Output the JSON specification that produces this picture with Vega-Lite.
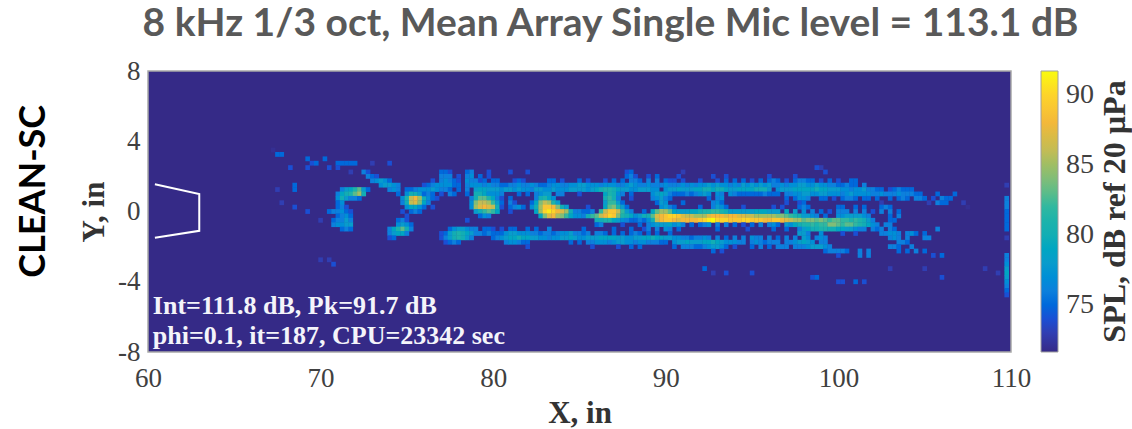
{"$schema":"https://vega.github.io/schema/vega-lite/v6.json","width":863,"height":281,"autosize":"none","padding":{"left":148,"top":71,"right":121,"bottom":77},"background":"white","view":{"fill":"#352a87","stroke":"#a8a8a8","strokeWidth":1.5},
"title":{"text":"8 kHz 1/3 oct, Mean Array Single Mic level = 113.1 dB","font":"Lato","fontSize":39,"fontWeight":"bold","color":"#595959","anchor":"middle","dx":31,"offset":13},
"layer":[
{"mark":{"type":"rect","width":4.6,"height":4.8},
"data":{"values":[
{"x":67.25,"y":3.5,"v":72},{"x":67.5,"y":3.25,"v":75},{"x":67.75,"y":3.25,"v":75},{"x":69.25,"y":3,"v":75},{"x":70.25,"y":3,"v":75},{"x":69.5,"y":2.75,"v":74},{"x":69.75,"y":2.75,"v":75},{"x":68.25,"y":2.5,"v":74},{"x":69.25,"y":2.5,"v":74},{"x":68.5,"y":1.5,"v":75},{"x":68.5,"y":1.25,"v":75},{"x":67.5,"y":1.25,"v":73},{"x":67.75,"y":0.5,"v":73},{"x":68.5,"y":0.25,"v":74},{"x":69.25,"y":0,"v":74},{"x":70,"y":-0.5,"v":73},{"x":70,"y":-2.75,"v":73},{"x":70.5,"y":-2.75,"v":73},{"x":70.75,"y":-3,"v":74},
{"x":71.25,"y":1.25,"v":76},{"x":71.5,"y":1.25,"v":78},{"x":71.75,"y":1.25,"v":79},{"x":72,"y":1.25,"v":81},{"x":72.25,"y":1.25,"v":83},{"x":72.5,"y":1.25,"v":78},{"x":72.75,"y":1.25,"v":75},
{"x":71,"y":1,"v":76},{"x":71.25,"y":1,"v":79},{"x":71.5,"y":1,"v":80},{"x":71.75,"y":1,"v":81},{"x":72,"y":1,"v":83},{"x":72.25,"y":1,"v":85},{"x":72.5,"y":1,"v":80},
{"x":71,"y":0.75,"v":77},{"x":71.25,"y":0.75,"v":80},{"x":71.5,"y":0.75,"v":78},{"x":71.75,"y":0.75,"v":76},{"x":72,"y":0.75,"v":76},{"x":72.25,"y":0.75,"v":75},
{"x":71,"y":0.5,"v":75},{"x":71.25,"y":0.5,"v":77},{"x":71,"y":0.25,"v":75},{"x":71.25,"y":0.25,"v":76},{"x":71.5,"y":0.25,"v":74},
{"x":70.5,"y":0,"v":75},{"x":70.75,"y":0,"v":76},{"x":71,"y":0,"v":76},{"x":71.25,"y":0,"v":77},{"x":71.5,"y":0,"v":75},{"x":71.75,"y":0,"v":74},
{"x":71,"y":-0.25,"v":75},{"x":71.25,"y":-0.25,"v":76},{"x":71.5,"y":-0.25,"v":77},{"x":71.75,"y":-0.25,"v":75},
{"x":70.75,"y":-0.5,"v":75},{"x":71,"y":-0.5,"v":76},{"x":71.25,"y":-0.5,"v":76},{"x":71.5,"y":-0.5,"v":78},{"x":71.75,"y":-0.5,"v":76},
{"x":70.75,"y":-0.75,"v":76},{"x":71,"y":-0.75,"v":77},{"x":71.25,"y":-0.75,"v":77},{"x":71.5,"y":-0.75,"v":78},{"x":71.75,"y":-0.75,"v":78},
{"x":71.25,"y":-1,"v":75},{"x":71.5,"y":-1,"v":76},{"x":71.75,"y":-1,"v":75},
{"x":71,"y":2.75,"v":75},{"x":71.25,"y":2.75,"v":75},{"x":71.5,"y":2.75,"v":75},{"x":71.75,"y":2.75,"v":75},{"x":72,"y":2.75,"v":75},{"x":70.5,"y":2.5,"v":74},{"x":71,"y":2.5,"v":74},{"x":71.75,"y":2.25,"v":73},{"x":74,"y":2.75,"v":74},{"x":73,"y":2.75,"v":73},
{"x":72.5,"y":2.25,"v":76},{"x":72.75,"y":2.25,"v":74},{"x":72.75,"y":2,"v":76},{"x":73,"y":2,"v":75},{"x":73.25,"y":2,"v":74},
{"x":73,"y":1.75,"v":76},{"x":73.25,"y":1.75,"v":77},{"x":73.5,"y":1.75,"v":78},{"x":73.75,"y":1.75,"v":77},{"x":74,"y":1.75,"v":75},
{"x":73.5,"y":1.5,"v":77},{"x":73.75,"y":1.5,"v":78},{"x":74,"y":1.5,"v":78},{"x":74.25,"y":1.5,"v":77},{"x":74.5,"y":1.5,"v":76},
{"x":74,"y":1.25,"v":76},{"x":74.25,"y":1.25,"v":77},{"x":74.5,"y":1.25,"v":76},{"x":75,"y":1.25,"v":75},{"x":75.25,"y":1.25,"v":75},
{"x":74.5,"y":1,"v":75},{"x":75,"y":1,"v":77},{"x":75.25,"y":1,"v":80},{"x":75.5,"y":1,"v":80},{"x":75.75,"y":1,"v":78},{"x":76,"y":1,"v":76},
{"x":74.75,"y":0.75,"v":77},{"x":75,"y":0.75,"v":81},{"x":75.25,"y":0.75,"v":86},{"x":75.5,"y":0.75,"v":88},{"x":75.75,"y":0.75,"v":85},{"x":76,"y":0.75,"v":80},{"x":76.25,"y":0.75,"v":77},{"x":76.5,"y":0.75,"v":75},{"x":76.75,"y":0.75,"v":74},
{"x":74.75,"y":0.5,"v":76},{"x":75,"y":0.5,"v":80},{"x":75.25,"y":0.5,"v":86},{"x":75.5,"y":0.5,"v":87},{"x":75.75,"y":0.5,"v":84},{"x":76,"y":0.5,"v":79},{"x":76.25,"y":0.5,"v":76},
{"x":75,"y":0.25,"v":77},{"x":75.25,"y":0.25,"v":79},{"x":75.5,"y":0.25,"v":79},{"x":75.75,"y":0.25,"v":77},{"x":76,"y":0.25,"v":75},{"x":76.5,"y":0.25,"v":74},
{"x":74.75,"y":0,"v":74},{"x":75.25,"y":0,"v":75},{"x":75.5,"y":0,"v":76},{"x":75.75,"y":0,"v":75},{"x":75,"y":-0.25,"v":74},
{"x":74.5,"y":-0.5,"v":75},{"x":74.75,"y":-0.5,"v":76},{"x":75,"y":-0.5,"v":74},
{"x":74.5,"y":-0.75,"v":77},{"x":74.75,"y":-0.75,"v":78},{"x":75,"y":-0.75,"v":77},{"x":75.25,"y":-0.75,"v":75},
{"x":74,"y":-1,"v":76},{"x":74.25,"y":-1,"v":79},{"x":74.5,"y":-1,"v":81},{"x":74.75,"y":-1,"v":83},{"x":75,"y":-1,"v":80},{"x":75.25,"y":-1,"v":76},
{"x":74,"y":-1.25,"v":76},{"x":74.25,"y":-1.25,"v":78},{"x":74.5,"y":-1.25,"v":79},{"x":74.75,"y":-1.25,"v":79},{"x":75,"y":-1.25,"v":76},{"x":74,"y":-1.5,"v":74},{"x":74.25,"y":-1.5,"v":75},
{"x":77,"y":2.25,"v":75},{"x":77.25,"y":2.25,"v":75},{"x":77.5,"y":2.25,"v":74},{"x":78.5,"y":2.25,"v":75},{"x":78.75,"y":2.25,"v":76},{"x":79.75,"y":2.25,"v":74},{"x":81,"y":2.25,"v":74},{"x":82,"y":2.25,"v":74},
{"x":77,"y":2,"v":76},{"x":77.25,"y":2,"v":76},{"x":77.5,"y":2,"v":76},{"x":78,"y":2,"v":74},{"x":78.5,"y":2,"v":76},{"x":78.75,"y":2,"v":77},{"x":79.25,"y":2,"v":75},{"x":79.75,"y":2,"v":74},
{"x":76.5,"y":1.75,"v":74},{"x":77,"y":1.75,"v":76},{"x":77.25,"y":1.75,"v":77},{"x":77.5,"y":1.75,"v":76},{"x":77.75,"y":1.75,"v":75},{"x":78,"y":1.75,"v":74},{"x":78.5,"y":1.75,"v":77},{"x":78.75,"y":1.75,"v":76},{"x":79,"y":1.75,"v":76},{"x":79.25,"y":1.75,"v":74},{"x":79.5,"y":1.75,"v":75},{"x":80,"y":1.75,"v":75},{"x":80.25,"y":1.75,"v":75},{"x":81.25,"y":1.75,"v":74},{"x":81.5,"y":1.75,"v":75},{"x":81.75,"y":1.75,"v":74},
{"x":76,"y":1.5,"v":74},{"x":76.25,"y":1.5,"v":75},{"x":76.5,"y":1.5,"v":76},{"x":76.75,"y":1.5,"v":77},{"x":77,"y":1.5,"v":77},{"x":77.25,"y":1.5,"v":77},{"x":77.5,"y":1.5,"v":77},{"x":77.75,"y":1.5,"v":75},{"x":78,"y":1.5,"v":75},{"x":78.5,"y":1.5,"v":76},{"x":78.75,"y":1.5,"v":77},{"x":79,"y":1.5,"v":77},{"x":79.25,"y":1.5,"v":77},{"x":79.5,"y":1.5,"v":76},{"x":79.75,"y":1.5,"v":77},{"x":80,"y":1.5,"v":76},{"x":80.25,"y":1.5,"v":76},{"x":80.5,"y":1.5,"v":75},{"x":80.75,"y":1.5,"v":75},{"x":81,"y":1.5,"v":76},{"x":81.25,"y":1.5,"v":76},{"x":81.5,"y":1.5,"v":77},{"x":81.75,"y":1.5,"v":76},{"x":82,"y":1.5,"v":76},{"x":82.25,"y":1.5,"v":77},{"x":82.5,"y":1.5,"v":76},{"x":82.75,"y":1.5,"v":75},{"x":83,"y":1.5,"v":75},{"x":83.25,"y":1.5,"v":76},{"x":83.5,"y":1.5,"v":77},{"x":83.75,"y":1.5,"v":77},
{"x":75.5,"y":1.25,"v":76},{"x":75.75,"y":1.25,"v":77},{"x":76,"y":1.25,"v":77},{"x":76.25,"y":1.25,"v":77},{"x":76.5,"y":1.25,"v":78},{"x":76.75,"y":1.25,"v":77},{"x":77,"y":1.25,"v":76},{"x":77.25,"y":1.25,"v":76},{"x":77.5,"y":1.25,"v":75},{"x":78,"y":1.25,"v":75},{"x":78.5,"y":1.25,"v":76},{"x":79,"y":1.25,"v":78},{"x":79.25,"y":1.25,"v":79},{"x":79.5,"y":1.25,"v":79},{"x":79.75,"y":1.25,"v":78},{"x":80,"y":1.25,"v":78},{"x":80.25,"y":1.25,"v":78},{"x":80.5,"y":1.25,"v":77},{"x":80.75,"y":1.25,"v":78},{"x":81,"y":1.25,"v":78},{"x":81.25,"y":1.25,"v":77},{"x":81.5,"y":1.25,"v":78},{"x":81.75,"y":1.25,"v":77},{"x":82,"y":1.25,"v":77},{"x":82.25,"y":1.25,"v":76},{"x":82.5,"y":1.25,"v":78},{"x":82.75,"y":1.25,"v":78},{"x":83,"y":1.25,"v":77},{"x":83.25,"y":1.25,"v":77},{"x":83.5,"y":1.25,"v":78},{"x":83.75,"y":1.25,"v":77},
{"x":76,"y":1,"v":75},{"x":76.25,"y":1,"v":76},{"x":76.5,"y":1,"v":75},{"x":77,"y":1,"v":74},{"x":77.5,"y":1,"v":76},{"x":77.75,"y":1,"v":75},{"x":78.5,"y":1,"v":75},{"x":79,"y":1,"v":80},{"x":79.25,"y":1,"v":80},{"x":79.5,"y":1,"v":79},{"x":79.75,"y":1,"v":77},{"x":80,"y":1,"v":77},{"x":80.25,"y":1,"v":77},{"x":80.5,"y":1,"v":76},{"x":81.5,"y":1,"v":75},{"x":82,"y":1,"v":75},{"x":82.5,"y":1,"v":76},{"x":82.75,"y":1,"v":77},{"x":83,"y":1,"v":78},{"x":83.25,"y":1,"v":78},{"x":83.75,"y":1,"v":76},
{"x":78.75,"y":0.75,"v":76},{"x":79,"y":0.75,"v":80},{"x":79.25,"y":0.75,"v":83},{"x":79.5,"y":0.75,"v":83},{"x":79.75,"y":0.75,"v":81},{"x":80,"y":0.75,"v":79},{"x":80.25,"y":0.75,"v":76},{"x":80.5,"y":0.75,"v":74},{"x":81,"y":0.75,"v":75},
{"x":78.75,"y":0.5,"v":77},{"x":79,"y":0.5,"v":84},{"x":79.25,"y":0.5,"v":86},{"x":79.5,"y":0.5,"v":86},{"x":79.75,"y":0.5,"v":85},{"x":80,"y":0.5,"v":82},{"x":80.25,"y":0.5,"v":78},{"x":80.5,"y":0.5,"v":75},{"x":81,"y":0.5,"v":76},{"x":81.25,"y":0.5,"v":74},
{"x":78.75,"y":0.25,"v":77},{"x":79,"y":0.25,"v":85},{"x":79.25,"y":0.25,"v":87},{"x":79.5,"y":0.25,"v":88},{"x":79.75,"y":0.25,"v":87},{"x":80,"y":0.25,"v":86},{"x":80.25,"y":0.25,"v":80},{"x":80.5,"y":0.25,"v":74},{"x":81,"y":0.25,"v":75},{"x":81.25,"y":0.25,"v":76},{"x":81.5,"y":0.25,"v":77},{"x":81.75,"y":0.25,"v":75},
{"x":79,"y":0,"v":78},{"x":79.25,"y":0,"v":80},{"x":79.5,"y":0,"v":82},{"x":79.75,"y":0,"v":83},{"x":80,"y":0,"v":82},{"x":80.25,"y":0,"v":79},{"x":81,"y":0,"v":74},{"x":79.25,"y":-0.25,"v":75},{"x":79.5,"y":-0.25,"v":77},{"x":79.75,"y":-0.25,"v":76},{"x":78.5,"y":-0.5,"v":74},
{"x":82.5,"y":0.75,"v":76},{"x":82.75,"y":0.75,"v":80},{"x":83,"y":0.75,"v":81},{"x":83.25,"y":0.75,"v":79},{"x":83.5,"y":0.75,"v":77},
{"x":82.25,"y":0.5,"v":75},{"x":82.5,"y":0.5,"v":79},{"x":82.75,"y":0.5,"v":84},{"x":83,"y":0.5,"v":86},{"x":83.25,"y":0.5,"v":85},{"x":83.5,"y":0.5,"v":81},{"x":83.75,"y":0.5,"v":78},
{"x":82.25,"y":0.25,"v":77},{"x":82.5,"y":0.25,"v":80},{"x":82.75,"y":0.25,"v":85},{"x":83,"y":0.25,"v":89},{"x":83.25,"y":0.25,"v":89},{"x":83.5,"y":0.25,"v":88},{"x":83.75,"y":0.25,"v":84},{"x":84,"y":0.25,"v":80},{"x":84.25,"y":0.25,"v":78},
{"x":82.5,"y":0,"v":79},{"x":82.75,"y":0,"v":85},{"x":83,"y":0,"v":90},{"x":83.25,"y":0,"v":91},{"x":83.5,"y":0,"v":90},{"x":83.75,"y":0,"v":88},{"x":84,"y":0,"v":87},{"x":84.25,"y":0,"v":85},{"x":84.5,"y":0,"v":80},{"x":84.75,"y":0,"v":76},{"x":85,"y":0,"v":76},{"x":85.25,"y":0,"v":75},
{"x":82.75,"y":-0.25,"v":79},{"x":83,"y":-0.25,"v":84},{"x":83.25,"y":-0.25,"v":87},{"x":83.5,"y":-0.25,"v":88},{"x":83.75,"y":-0.25,"v":85},{"x":84,"y":-0.25,"v":84},{"x":84.25,"y":-0.25,"v":82},{"x":84.5,"y":-0.25,"v":79},{"x":84.75,"y":-0.25,"v":77},{"x":85,"y":-0.25,"v":77},{"x":85.25,"y":-0.25,"v":76},{"x":85.5,"y":-0.25,"v":80},{"x":85.75,"y":-0.25,"v":82},
{"x":86.5,"y":1,"v":79},{"x":86.75,"y":1,"v":81},{"x":87,"y":1,"v":80},{"x":86.5,"y":0.75,"v":80},{"x":86.75,"y":0.75,"v":82},{"x":87,"y":0.75,"v":80},{"x":87.25,"y":0.75,"v":76},
{"x":86.5,"y":0.5,"v":78},{"x":86.75,"y":0.5,"v":82},{"x":87,"y":0.5,"v":82},{"x":87.25,"y":0.5,"v":78},{"x":87.5,"y":0.5,"v":75},
{"x":85.5,"y":0.25,"v":74},{"x":86.5,"y":0.25,"v":79},{"x":86.75,"y":0.25,"v":83},{"x":87,"y":0.25,"v":84},{"x":87.25,"y":0.25,"v":81},{"x":87.5,"y":0.25,"v":78},{"x":87.75,"y":0.25,"v":75},
{"x":85.5,"y":0,"v":75},{"x":85.75,"y":0,"v":76},{"x":86.25,"y":0,"v":82},{"x":86.5,"y":0,"v":86},{"x":86.75,"y":0,"v":89},{"x":87,"y":0,"v":89},{"x":87.25,"y":0,"v":86},{"x":87.5,"y":0,"v":82},{"x":87.75,"y":0,"v":78},{"x":88,"y":0,"v":76},
{"x":86,"y":-0.25,"v":83},{"x":86.25,"y":-0.25,"v":86},{"x":86.5,"y":-0.25,"v":88},{"x":86.75,"y":-0.25,"v":90},{"x":87,"y":-0.25,"v":89},{"x":87.25,"y":-0.25,"v":84},{"x":87.5,"y":-0.25,"v":81},{"x":87.75,"y":-0.25,"v":80},{"x":88,"y":-0.25,"v":79},{"x":88.25,"y":-0.25,"v":77},{"x":88.5,"y":-0.25,"v":78},{"x":88.75,"y":-0.25,"v":80},{"x":89,"y":-0.25,"v":80},{"x":89.25,"y":-0.25,"v":83},{"x":89.5,"y":-0.25,"v":87},{"x":89.75,"y":-0.25,"v":88},{"x":90,"y":-0.25,"v":89},{"x":90.25,"y":-0.25,"v":90},{"x":90.5,"y":-0.25,"v":90},{"x":90.75,"y":-0.25,"v":89},{"x":91,"y":-0.25,"v":87},{"x":91.25,"y":-0.25,"v":86},{"x":91.5,"y":-0.25,"v":86},{"x":91.75,"y":-0.25,"v":85},{"x":92,"y":-0.25,"v":85},{"x":92.25,"y":-0.25,"v":85},{"x":92.5,"y":-0.25,"v":87},{"x":92.75,"y":-0.25,"v":88},{"x":93,"y":-0.25,"v":88},{"x":93.25,"y":-0.25,"v":88},{"x":93.5,"y":-0.25,"v":87},{"x":93.75,"y":-0.25,"v":88},{"x":94,"y":-0.25,"v":88},{"x":94.25,"y":-0.25,"v":87},{"x":94.5,"y":-0.25,"v":87},{"x":94.75,"y":-0.25,"v":86},{"x":95,"y":-0.25,"v":86},{"x":95.25,"y":-0.25,"v":85},{"x":95.5,"y":-0.25,"v":85},{"x":95.75,"y":-0.25,"v":85},{"x":96,"y":-0.25,"v":85},{"x":96.25,"y":-0.25,"v":85},{"x":96.5,"y":-0.25,"v":84},{"x":96.75,"y":-0.25,"v":84},{"x":97,"y":-0.25,"v":83},{"x":97.25,"y":-0.25,"v":82},{"x":97.5,"y":-0.25,"v":81},{"x":97.75,"y":-0.25,"v":80},{"x":98,"y":-0.25,"v":78},{"x":98.25,"y":-0.25,"v":78},{"x":98.5,"y":-0.25,"v":77},{"x":98.75,"y":-0.25,"v":76},{"x":99.25,"y":-0.25,"v":75},{"x":100,"y":-0.25,"v":77},{"x":100.25,"y":-0.25,"v":77},{"x":100.5,"y":-0.25,"v":78},{"x":100.75,"y":-0.25,"v":78},{"x":101,"y":-0.25,"v":78},{"x":101.25,"y":-0.25,"v":78},{"x":101.5,"y":-0.25,"v":77},{"x":101.75,"y":-0.25,"v":76},{"x":103,"y":-0.25,"v":75},{"x":103.5,"y":-0.25,"v":76},
{"x":86,"y":-0.5,"v":80},{"x":86.25,"y":-0.5,"v":80},{"x":86.5,"y":-0.5,"v":81},{"x":86.75,"y":-0.5,"v":81},{"x":87,"y":-0.5,"v":79},{"x":87.25,"y":-0.5,"v":78},{"x":87.5,"y":-0.5,"v":77},{"x":87.75,"y":-0.5,"v":76},{"x":88,"y":-0.5,"v":75},{"x":88.25,"y":-0.5,"v":75},{"x":88.5,"y":-0.5,"v":76},{"x":88.75,"y":-0.5,"v":75},{"x":89,"y":-0.5,"v":77},{"x":89.25,"y":-0.5,"v":80},{"x":89.5,"y":-0.5,"v":86},{"x":89.75,"y":-0.5,"v":88},{"x":90,"y":-0.5,"v":89},{"x":90.25,"y":-0.5,"v":89},{"x":90.5,"y":-0.5,"v":88},{"x":90.75,"y":-0.5,"v":87},{"x":91,"y":-0.5,"v":88},{"x":91.25,"y":-0.5,"v":88},{"x":91.5,"y":-0.5,"v":88},{"x":91.75,"y":-0.5,"v":88},{"x":92,"y":-0.5,"v":89},{"x":92.25,"y":-0.5,"v":90},{"x":92.5,"y":-0.5,"v":91},{"x":92.75,"y":-0.5,"v":91.7},{"x":93,"y":-0.5,"v":90},{"x":93.25,"y":-0.5,"v":90},{"x":93.5,"y":-0.5,"v":90},{"x":93.75,"y":-0.5,"v":89},{"x":94,"y":-0.5,"v":89},{"x":94.25,"y":-0.5,"v":89},{"x":94.5,"y":-0.5,"v":90},{"x":94.75,"y":-0.5,"v":90},{"x":95,"y":-0.5,"v":89},{"x":95.25,"y":-0.5,"v":89},{"x":95.5,"y":-0.5,"v":89},{"x":95.75,"y":-0.5,"v":88},{"x":96,"y":-0.5,"v":88},{"x":96.25,"y":-0.5,"v":89},{"x":96.5,"y":-0.5,"v":89},{"x":96.75,"y":-0.5,"v":88},{"x":97,"y":-0.5,"v":87},{"x":97.25,"y":-0.5,"v":86},{"x":97.5,"y":-0.5,"v":85},{"x":97.75,"y":-0.5,"v":85},{"x":98,"y":-0.5,"v":83},{"x":98.25,"y":-0.5,"v":84},{"x":98.5,"y":-0.5,"v":84},{"x":98.75,"y":-0.5,"v":83},{"x":99,"y":-0.5,"v":84},{"x":99.25,"y":-0.5,"v":83},{"x":99.5,"y":-0.5,"v":82},{"x":99.75,"y":-0.5,"v":83},{"x":100,"y":-0.5,"v":83},{"x":100.25,"y":-0.5,"v":82},{"x":100.5,"y":-0.5,"v":82},{"x":100.75,"y":-0.5,"v":81},{"x":101,"y":-0.5,"v":82},{"x":101.25,"y":-0.5,"v":81},{"x":101.5,"y":-0.5,"v":80},{"x":101.75,"y":-0.5,"v":78},{"x":102,"y":-0.5,"v":76},{"x":103,"y":-0.5,"v":75},{"x":103.25,"y":-0.5,"v":75},
{"x":87.75,"y":2.25,"v":74},{"x":88,"y":2.25,"v":75},{"x":91,"y":2.25,"v":73},
{"x":87.75,"y":2,"v":75},{"x":88,"y":2,"v":76},{"x":88.25,"y":2,"v":74},{"x":89,"y":2,"v":74},{"x":89.5,"y":2,"v":75},{"x":90.75,"y":2,"v":74},{"x":92.75,"y":2,"v":74},{"x":93.5,"y":2,"v":74},{"x":96,"y":2,"v":74},{"x":97.5,"y":2,"v":74},{"x":99,"y":2.5,"v":73},{"x":98.75,"y":2.5,"v":74},{"x":99.25,"y":2.25,"v":74},
{"x":83.25,"y":1.75,"v":75},{"x":83.5,"y":1.75,"v":75},{"x":84,"y":1.75,"v":74},{"x":85,"y":1.75,"v":75},{"x":85.5,"y":1.75,"v":74},{"x":86.5,"y":1.75,"v":74},{"x":87,"y":1.75,"v":75},{"x":87.5,"y":1.75,"v":75},{"x":88,"y":1.75,"v":76},{"x":88.25,"y":1.75,"v":76},{"x":88.5,"y":1.75,"v":75},{"x":89,"y":1.75,"v":76},{"x":89.5,"y":1.75,"v":76},{"x":90,"y":1.75,"v":75},{"x":90.25,"y":1.75,"v":74},{"x":90.5,"y":1.75,"v":74},{"x":91,"y":1.75,"v":74},{"x":92,"y":1.75,"v":74},{"x":93,"y":1.75,"v":74},{"x":93.5,"y":1.75,"v":75},{"x":94,"y":1.75,"v":75},{"x":94.5,"y":1.75,"v":75},{"x":95,"y":1.75,"v":74},{"x":95.5,"y":1.75,"v":75},{"x":96,"y":1.75,"v":75},{"x":96.25,"y":1.75,"v":76},{"x":96.5,"y":1.75,"v":75},{"x":97,"y":1.75,"v":74},{"x":97.5,"y":1.75,"v":75},{"x":97.75,"y":1.75,"v":76},{"x":98,"y":1.75,"v":76},{"x":98.25,"y":1.75,"v":75},{"x":98.5,"y":1.75,"v":75},{"x":99,"y":1.75,"v":74},{"x":99.5,"y":1.75,"v":75},{"x":100,"y":1.75,"v":74},{"x":100.75,"y":1.75,"v":75},{"x":101,"y":1.75,"v":75},
{"x":84,"y":1.5,"v":76},{"x":84.25,"y":1.5,"v":76},{"x":84.5,"y":1.5,"v":77},{"x":84.75,"y":1.5,"v":77},{"x":85,"y":1.5,"v":78},{"x":85.25,"y":1.5,"v":78},{"x":85.5,"y":1.5,"v":77},{"x":85.75,"y":1.5,"v":77},{"x":86,"y":1.5,"v":77},{"x":86.25,"y":1.5,"v":76},{"x":86.5,"y":1.5,"v":77},{"x":86.75,"y":1.5,"v":77},{"x":87,"y":1.5,"v":77},{"x":87.25,"y":1.5,"v":76},{"x":87.5,"y":1.5,"v":76},{"x":87.75,"y":1.5,"v":77},{"x":88,"y":1.5,"v":78},{"x":88.25,"y":1.5,"v":77},{"x":88.5,"y":1.5,"v":76},{"x":88.75,"y":1.5,"v":76},{"x":89,"y":1.5,"v":77},{"x":89.25,"y":1.5,"v":76},{"x":89.5,"y":1.5,"v":76},{"x":89.75,"y":1.5,"v":76},{"x":90,"y":1.5,"v":77},{"x":90.25,"y":1.5,"v":76},{"x":90.5,"y":1.5,"v":76},{"x":90.75,"y":1.5,"v":76},{"x":91,"y":1.5,"v":77},{"x":91.25,"y":1.5,"v":76},{"x":91.5,"y":1.5,"v":77},{"x":91.75,"y":1.5,"v":76},{"x":92,"y":1.5,"v":77},{"x":92.25,"y":1.5,"v":77},{"x":92.5,"y":1.5,"v":78},{"x":92.75,"y":1.5,"v":77},{"x":93,"y":1.5,"v":78},{"x":93.25,"y":1.5,"v":77},{"x":93.5,"y":1.5,"v":77},{"x":93.75,"y":1.5,"v":76},{"x":94,"y":1.5,"v":77},{"x":94.25,"y":1.5,"v":76},{"x":94.5,"y":1.5,"v":78},{"x":94.75,"y":1.5,"v":77},{"x":95,"y":1.5,"v":78},{"x":95.25,"y":1.5,"v":77},{"x":95.5,"y":1.5,"v":78},{"x":95.75,"y":1.5,"v":77},{"x":96,"y":1.5,"v":78},{"x":96.25,"y":1.5,"v":76},{"x":96.5,"y":1.5,"v":76},{"x":96.75,"y":1.5,"v":77},{"x":97,"y":1.5,"v":76},{"x":97.25,"y":1.5,"v":77},{"x":97.5,"y":1.5,"v":77},{"x":97.75,"y":1.5,"v":78},{"x":98,"y":1.5,"v":78},{"x":98.25,"y":1.5,"v":77},{"x":98.5,"y":1.5,"v":77},{"x":98.75,"y":1.5,"v":78},{"x":99,"y":1.5,"v":77},{"x":99.25,"y":1.5,"v":77},{"x":99.5,"y":1.5,"v":76},{"x":99.75,"y":1.5,"v":76},{"x":100,"y":1.5,"v":75},{"x":100.25,"y":1.5,"v":75},{"x":100.5,"y":1.5,"v":76},{"x":100.75,"y":1.5,"v":75},{"x":101,"y":1.5,"v":75},{"x":101.5,"y":1.5,"v":76},
{"x":84,"y":1.25,"v":77},{"x":84.25,"y":1.25,"v":77},{"x":84.5,"y":1.25,"v":78},{"x":84.75,"y":1.25,"v":78},{"x":85,"y":1.25,"v":78},{"x":85.25,"y":1.25,"v":78},{"x":85.5,"y":1.25,"v":77},{"x":85.75,"y":1.25,"v":78},{"x":86,"y":1.25,"v":79},{"x":86.25,"y":1.25,"v":80},{"x":86.5,"y":1.25,"v":81},{"x":86.75,"y":1.25,"v":81},{"x":87,"y":1.25,"v":80},{"x":87.25,"y":1.25,"v":79},{"x":87.5,"y":1.25,"v":78},{"x":87.75,"y":1.25,"v":78},{"x":88,"y":1.25,"v":77},{"x":88.25,"y":1.25,"v":77},{"x":88.5,"y":1.25,"v":78},{"x":88.75,"y":1.25,"v":78},{"x":89,"y":1.25,"v":78},{"x":89.25,"y":1.25,"v":77},{"x":89.5,"y":1.25,"v":77},{"x":90,"y":1.25,"v":77},{"x":90.25,"y":1.25,"v":78},{"x":90.5,"y":1.25,"v":78},{"x":90.75,"y":1.25,"v":79},{"x":91,"y":1.25,"v":78},{"x":91.25,"y":1.25,"v":78},{"x":91.5,"y":1.25,"v":78},{"x":91.75,"y":1.25,"v":79},{"x":92,"y":1.25,"v":79},{"x":92.25,"y":1.25,"v":80},{"x":92.5,"y":1.25,"v":80},{"x":92.75,"y":1.25,"v":79},{"x":93,"y":1.25,"v":80},{"x":93.25,"y":1.25,"v":80},{"x":93.5,"y":1.25,"v":79},{"x":93.75,"y":1.25,"v":78},{"x":94,"y":1.25,"v":78},{"x":94.25,"y":1.25,"v":79},{"x":94.5,"y":1.25,"v":79},{"x":94.75,"y":1.25,"v":79},{"x":95,"y":1.25,"v":79},{"x":95.25,"y":1.25,"v":80},{"x":95.5,"y":1.25,"v":80},{"x":95.75,"y":1.25,"v":80},{"x":96,"y":1.25,"v":78},{"x":96.5,"y":1.25,"v":77},{"x":96.75,"y":1.25,"v":78},{"x":97,"y":1.25,"v":78},{"x":97.25,"y":1.25,"v":78},{"x":97.5,"y":1.25,"v":79},{"x":97.75,"y":1.25,"v":79},{"x":98,"y":1.25,"v":79},{"x":98.25,"y":1.25,"v":79},{"x":98.5,"y":1.25,"v":79},{"x":98.75,"y":1.25,"v":80},{"x":99,"y":1.25,"v":79},{"x":99.25,"y":1.25,"v":79},{"x":99.5,"y":1.25,"v":78},{"x":99.75,"y":1.25,"v":78},{"x":100,"y":1.25,"v":78},{"x":100.25,"y":1.25,"v":77},{"x":100.5,"y":1.25,"v":77},{"x":100.75,"y":1.25,"v":76},{"x":101,"y":1.25,"v":77},{"x":101.25,"y":1.25,"v":77},{"x":101.5,"y":1.25,"v":78},{"x":101.75,"y":1.25,"v":76},{"x":102,"y":1.25,"v":76},{"x":102.25,"y":1.25,"v":75},{"x":102.5,"y":1.25,"v":75},{"x":103,"y":1.25,"v":74},{"x":103.25,"y":1.25,"v":75},{"x":103.5,"y":1.25,"v":76},{"x":103.75,"y":1.25,"v":75},{"x":104,"y":1.25,"v":75},{"x":104.25,"y":1.25,"v":75},
{"x":84,"y":1,"v":76},{"x":85,"y":1,"v":74},{"x":87.25,"y":1,"v":77},{"x":87.5,"y":1,"v":76},{"x":88,"y":1,"v":75},{"x":89.25,"y":1,"v":77},{"x":89.5,"y":1,"v":78},{"x":89.75,"y":1,"v":79},{"x":90,"y":1,"v":78},{"x":90.25,"y":1,"v":76},{"x":90.5,"y":1,"v":75},{"x":90.75,"y":1,"v":75},{"x":91,"y":1,"v":75},{"x":91.25,"y":1,"v":76},{"x":91.5,"y":1,"v":75},{"x":91.75,"y":1,"v":76},{"x":92,"y":1,"v":77},{"x":92.25,"y":1,"v":78},{"x":92.5,"y":1,"v":77},{"x":93,"y":1,"v":77},{"x":93.25,"y":1,"v":76},{"x":93.75,"y":1,"v":77},{"x":94,"y":1,"v":76},{"x":94.25,"y":1,"v":75},{"x":94.5,"y":1,"v":75},{"x":94.75,"y":1,"v":75},{"x":95,"y":1,"v":75},{"x":95.25,"y":1,"v":75},{"x":95.5,"y":1,"v":75},{"x":95.75,"y":1,"v":76},{"x":96,"y":1,"v":75},{"x":96.25,"y":1,"v":75},{"x":96.5,"y":1,"v":75},{"x":97,"y":1,"v":76},{"x":97.25,"y":1,"v":76},{"x":97.5,"y":1,"v":77},{"x":97.75,"y":1,"v":77},{"x":98,"y":1,"v":78},{"x":98.25,"y":1,"v":78},{"x":98.5,"y":1,"v":77},{"x":98.75,"y":1,"v":77},{"x":99,"y":1,"v":78},{"x":99.25,"y":1,"v":78},{"x":99.5,"y":1,"v":77},{"x":99.75,"y":1,"v":77},{"x":100,"y":1,"v":77},{"x":100.25,"y":1,"v":76},{"x":100.5,"y":1,"v":77},{"x":100.75,"y":1,"v":78},{"x":101,"y":1,"v":77},{"x":101.25,"y":1,"v":77},{"x":101.5,"y":1,"v":77},{"x":101.75,"y":1,"v":77},{"x":102,"y":1,"v":76},{"x":102.25,"y":1,"v":76},{"x":102.5,"y":1,"v":77},{"x":102.75,"y":1,"v":76},{"x":103,"y":1,"v":76},{"x":103.25,"y":1,"v":76},{"x":103.5,"y":1,"v":77},{"x":103.75,"y":1,"v":76},{"x":104,"y":1,"v":76},{"x":104.25,"y":1,"v":76},{"x":104.5,"y":1,"v":75},{"x":104.75,"y":1,"v":75},{"x":106.75,"y":1,"v":75},{"x":105.75,"y":1,"v":75},
{"x":87.25,"y":0.75,"v":76},{"x":88,"y":0.75,"v":74},{"x":89.25,"y":0.75,"v":76},{"x":89.5,"y":0.75,"v":77},{"x":89.75,"y":0.75,"v":78},{"x":90,"y":0.75,"v":76},{"x":90.25,"y":0.75,"v":75},{"x":92.5,"y":0.75,"v":75},{"x":93,"y":0.75,"v":76},{"x":93.25,"y":0.75,"v":77},{"x":97,"y":0.75,"v":75},{"x":97.5,"y":0.75,"v":75},{"x":97.75,"y":0.75,"v":77},{"x":98,"y":0.75,"v":77},{"x":98.25,"y":0.75,"v":76},{"x":99,"y":0.75,"v":75},{"x":99.25,"y":0.75,"v":75},{"x":99.75,"y":0.75,"v":74},{"x":100.25,"y":0.75,"v":75},{"x":100.5,"y":0.75,"v":76},{"x":100.75,"y":0.75,"v":76},{"x":101,"y":0.75,"v":75},{"x":101.5,"y":0.75,"v":75},{"x":101.75,"y":0.75,"v":75},{"x":102.25,"y":0.75,"v":75},{"x":103,"y":0.75,"v":75},{"x":103.5,"y":0.75,"v":75},{"x":103.75,"y":0.75,"v":76},{"x":104,"y":0.75,"v":75},{"x":104.5,"y":0.75,"v":76},{"x":104.75,"y":0.75,"v":76},{"x":105,"y":0.75,"v":75},{"x":105.5,"y":0.75,"v":74},{"x":106,"y":0.75,"v":76},{"x":106.25,"y":0.75,"v":75},{"x":106.5,"y":0.75,"v":75},
{"x":89.5,"y":0.5,"v":75},{"x":89.75,"y":0.5,"v":78},{"x":90,"y":0.5,"v":77},{"x":91,"y":0.5,"v":75},{"x":92.75,"y":0.5,"v":76},{"x":93,"y":0.5,"v":77},{"x":93.25,"y":0.5,"v":75},{"x":97,"y":0.5,"v":74},{"x":97.75,"y":0.5,"v":74},{"x":98,"y":0.5,"v":75},{"x":102.5,"y":0.5,"v":73},{"x":105.25,"y":0.5,"v":73},{"x":105.75,"y":0.5,"v":76},{"x":106,"y":0.5,"v":75},{"x":106.25,"y":0.5,"v":75},{"x":107.25,"y":0.5,"v":73},
{"x":89.75,"y":0.25,"v":77},{"x":90,"y":0.25,"v":78},{"x":90.25,"y":0.25,"v":76},{"x":90.5,"y":0.25,"v":75},{"x":92,"y":0.25,"v":75},{"x":92.75,"y":0.25,"v":76},{"x":93,"y":0.25,"v":78},{"x":93.25,"y":0.25,"v":77},{"x":93.5,"y":0.25,"v":75},{"x":94.5,"y":0.25,"v":74},{"x":96.25,"y":0.25,"v":74},{"x":96.75,"y":0.25,"v":74},{"x":97.75,"y":0.25,"v":75},{"x":98,"y":0.25,"v":76},{"x":98.25,"y":0.25,"v":75},{"x":100,"y":0.25,"v":75},{"x":100.25,"y":0.25,"v":75},{"x":101,"y":0.25,"v":75},{"x":101.5,"y":0.25,"v":75},{"x":102.5,"y":0.25,"v":75},{"x":102.75,"y":0.25,"v":76},{"x":103,"y":0.25,"v":75},{"x":107.5,"y":0.25,"v":72},
{"x":88.75,"y":0,"v":75},{"x":89.25,"y":0,"v":79},{"x":89.5,"y":0,"v":83},{"x":89.75,"y":0,"v":85},{"x":90,"y":0,"v":85},{"x":90.25,"y":0,"v":83},{"x":90.5,"y":0,"v":79},{"x":90.75,"y":0,"v":78},{"x":91,"y":0,"v":78},{"x":91.25,"y":0,"v":78},{"x":91.5,"y":0,"v":79},{"x":91.75,"y":0,"v":79},{"x":92,"y":0,"v":80},{"x":92.25,"y":0,"v":81},{"x":92.5,"y":0,"v":81},{"x":92.75,"y":0,"v":82},{"x":93,"y":0,"v":82},{"x":93.25,"y":0,"v":81},{"x":93.5,"y":0,"v":80},{"x":93.75,"y":0,"v":78},{"x":94,"y":0,"v":78},{"x":94.25,"y":0,"v":78},{"x":94.5,"y":0,"v":78},{"x":94.75,"y":0,"v":78},{"x":95,"y":0,"v":78},{"x":95.25,"y":0,"v":79},{"x":95.5,"y":0,"v":79},{"x":95.75,"y":0,"v":79},{"x":96,"y":0,"v":78},{"x":96.25,"y":0,"v":78},{"x":96.5,"y":0,"v":78},{"x":97,"y":0,"v":79},{"x":97.5,"y":0,"v":78},{"x":98,"y":0,"v":77},{"x":98.5,"y":0,"v":76},{"x":99,"y":0,"v":75},{"x":99.5,"y":0,"v":74},{"x":100,"y":0,"v":76},{"x":100.25,"y":0,"v":76},{"x":100.5,"y":0,"v":76},{"x":101,"y":0,"v":76},{"x":101.5,"y":0,"v":76},{"x":102,"y":0,"v":74},{"x":102.5,"y":0,"v":76},{"x":103,"y":0,"v":76},{"x":103.5,"y":0,"v":75},
{"x":86,"y":-0.75,"v":75},{"x":86.25,"y":-0.75,"v":76},{"x":87.5,"y":-0.75,"v":74},{"x":88.5,"y":-0.75,"v":75},{"x":89,"y":-0.75,"v":76},{"x":89.25,"y":-0.75,"v":77},{"x":89.5,"y":-0.75,"v":78},{"x":89.75,"y":-0.75,"v":78},{"x":90,"y":-0.75,"v":78},{"x":90.25,"y":-0.75,"v":79},{"x":90.5,"y":-0.75,"v":77},{"x":90.75,"y":-0.75,"v":78},{"x":91,"y":-0.75,"v":76},{"x":91.5,"y":-0.75,"v":75},{"x":92,"y":-0.75,"v":75},{"x":92.25,"y":-0.75,"v":76},{"x":92.5,"y":-0.75,"v":77},{"x":93,"y":-0.75,"v":76},{"x":93.5,"y":-0.75,"v":76},{"x":94,"y":-0.75,"v":75},{"x":94.5,"y":-0.75,"v":74},{"x":95,"y":-0.75,"v":75},{"x":95.5,"y":-0.75,"v":76},{"x":96,"y":-0.75,"v":76},{"x":96.25,"y":-0.75,"v":77},{"x":96.5,"y":-0.75,"v":75},{"x":97,"y":-0.75,"v":78},{"x":97.25,"y":-0.75,"v":77},{"x":97.5,"y":-0.75,"v":79},{"x":97.75,"y":-0.75,"v":80},{"x":98,"y":-0.75,"v":81},{"x":98.25,"y":-0.75,"v":81},{"x":98.5,"y":-0.75,"v":82},{"x":98.75,"y":-0.75,"v":81},{"x":99,"y":-0.75,"v":82},{"x":99.25,"y":-0.75,"v":82},{"x":99.5,"y":-0.75,"v":84},{"x":99.75,"y":-0.75,"v":84},{"x":100,"y":-0.75,"v":83},{"x":100.25,"y":-0.75,"v":82},{"x":100.5,"y":-0.75,"v":83},{"x":100.75,"y":-0.75,"v":83},{"x":101,"y":-0.75,"v":82},{"x":101.25,"y":-0.75,"v":81},{"x":101.5,"y":-0.75,"v":80},{"x":101.75,"y":-0.75,"v":79},{"x":102,"y":-0.75,"v":77},{"x":102.25,"y":-0.75,"v":76},{"x":102.75,"y":-0.75,"v":76},{"x":103,"y":-0.75,"v":76},
{"x":77.5,"y":-1,"v":75},{"x":77.75,"y":-1,"v":77},{"x":78,"y":-1,"v":78},{"x":78.25,"y":-1,"v":78},{"x":78.5,"y":-1,"v":77},{"x":78.75,"y":-1,"v":76},{"x":79,"y":-1,"v":76},{"x":79.5,"y":-1,"v":75},{"x":79.75,"y":-1,"v":75},{"x":80,"y":-1,"v":74},{"x":80.5,"y":-1,"v":74},{"x":81,"y":-1,"v":75},{"x":81.25,"y":-1,"v":75},{"x":82,"y":-1,"v":75},{"x":82.5,"y":-1,"v":75},{"x":83.25,"y":-1,"v":76},{"x":85.25,"y":-1,"v":75},{"x":87,"y":-1,"v":75},{"x":88,"y":-1,"v":75},{"x":88.75,"y":-1,"v":74},{"x":89,"y":-1,"v":76},{"x":89.5,"y":-1,"v":76},{"x":90,"y":-1,"v":77},{"x":90.25,"y":-1,"v":76},{"x":90.75,"y":-1,"v":75},{"x":93,"y":-1,"v":75},{"x":94.75,"y":-1,"v":74},{"x":96.25,"y":-1,"v":75},{"x":97,"y":-1,"v":75},{"x":97.75,"y":-1,"v":76},{"x":98,"y":-1,"v":78},{"x":98.25,"y":-1,"v":79},{"x":98.5,"y":-1,"v":80},{"x":98.75,"y":-1,"v":80},{"x":99,"y":-1,"v":81},{"x":99.25,"y":-1,"v":81},{"x":99.5,"y":-1,"v":80},{"x":99.75,"y":-1,"v":80},{"x":100,"y":-1,"v":79},{"x":100.25,"y":-1,"v":79},{"x":100.5,"y":-1,"v":78},{"x":100.75,"y":-1,"v":78},{"x":101,"y":-1,"v":77},{"x":101.25,"y":-1,"v":76},{"x":101.5,"y":-1,"v":76},{"x":102,"y":-1,"v":76},{"x":102.25,"y":-1,"v":75},{"x":102.5,"y":-1,"v":76},{"x":103,"y":-1,"v":76},{"x":103.25,"y":-1,"v":75},{"x":105.75,"y":-1,"v":76},
{"x":77,"y":-1.25,"v":74},{"x":77.25,"y":-1.25,"v":75},{"x":77.5,"y":-1.25,"v":78},{"x":77.75,"y":-1.25,"v":80},{"x":78,"y":-1.25,"v":81},{"x":78.25,"y":-1.25,"v":80},{"x":78.5,"y":-1.25,"v":79},{"x":78.75,"y":-1.25,"v":78},{"x":79,"y":-1.25,"v":76},{"x":79.25,"y":-1.25,"v":76},{"x":79.5,"y":-1.25,"v":75},{"x":79.75,"y":-1.25,"v":76},{"x":80,"y":-1.25,"v":75},{"x":80.25,"y":-1.25,"v":75},{"x":80.5,"y":-1.25,"v":75},{"x":80.75,"y":-1.25,"v":77},{"x":81,"y":-1.25,"v":78},{"x":81.25,"y":-1.25,"v":78},{"x":81.5,"y":-1.25,"v":77},{"x":81.75,"y":-1.25,"v":77},{"x":82,"y":-1.25,"v":77},{"x":82.25,"y":-1.25,"v":76},{"x":82.5,"y":-1.25,"v":76},{"x":82.75,"y":-1.25,"v":75},{"x":83,"y":-1.25,"v":76},{"x":83.25,"y":-1.25,"v":76},{"x":83.5,"y":-1.25,"v":75},{"x":83.75,"y":-1.25,"v":76},{"x":84,"y":-1.25,"v":77},{"x":84.25,"y":-1.25,"v":77},{"x":84.5,"y":-1.25,"v":78},{"x":84.75,"y":-1.25,"v":76},{"x":85,"y":-1.25,"v":76},{"x":85.25,"y":-1.25,"v":75},{"x":85.5,"y":-1.25,"v":76},{"x":86,"y":-1.25,"v":76},{"x":86.25,"y":-1.25,"v":76},{"x":86.5,"y":-1.25,"v":75},{"x":87,"y":-1.25,"v":75},{"x":87.5,"y":-1.25,"v":75},{"x":88,"y":-1.25,"v":75},{"x":88.25,"y":-1.25,"v":76},{"x":88.5,"y":-1.25,"v":75},{"x":89,"y":-1.25,"v":75},{"x":89.5,"y":-1.25,"v":75},{"x":90.25,"y":-1.25,"v":75},{"x":97.75,"y":-1.25,"v":78},{"x":98,"y":-1.25,"v":78},{"x":98.25,"y":-1.25,"v":76},{"x":99,"y":-1.25,"v":77},{"x":100.25,"y":-1.25,"v":74},{"x":101,"y":-1.25,"v":74},{"x":102.5,"y":-1.25,"v":76},{"x":102.75,"y":-1.25,"v":76},{"x":103,"y":-1.25,"v":77},{"x":103.25,"y":-1.25,"v":77},{"x":103.5,"y":-1.25,"v":76},{"x":104,"y":-1.25,"v":76},{"x":104.25,"y":-1.25,"v":77},{"x":104.5,"y":-1.25,"v":75},{"x":105,"y":-1.25,"v":75},
{"x":77,"y":-1.5,"v":74},{"x":77.25,"y":-1.5,"v":76},{"x":77.5,"y":-1.5,"v":78},{"x":77.75,"y":-1.5,"v":80},{"x":78,"y":-1.5,"v":81},{"x":78.25,"y":-1.5,"v":80},{"x":78.5,"y":-1.5,"v":78},{"x":78.75,"y":-1.5,"v":76},{"x":80,"y":-1.5,"v":75},{"x":80.25,"y":-1.5,"v":76},{"x":80.5,"y":-1.5,"v":77},{"x":80.75,"y":-1.5,"v":78},{"x":81,"y":-1.5,"v":79},{"x":81.25,"y":-1.5,"v":79},{"x":81.5,"y":-1.5,"v":80},{"x":81.75,"y":-1.5,"v":79},{"x":82,"y":-1.5,"v":79},{"x":82.25,"y":-1.5,"v":78},{"x":82.5,"y":-1.5,"v":78},{"x":82.75,"y":-1.5,"v":77},{"x":83,"y":-1.5,"v":77},{"x":83.25,"y":-1.5,"v":76},{"x":83.5,"y":-1.5,"v":77},{"x":83.75,"y":-1.5,"v":77},{"x":84,"y":-1.5,"v":78},{"x":84.25,"y":-1.5,"v":78},{"x":84.5,"y":-1.5,"v":79},{"x":84.75,"y":-1.5,"v":78},{"x":85,"y":-1.5,"v":77},{"x":85.25,"y":-1.5,"v":77},{"x":85.5,"y":-1.5,"v":78},{"x":85.75,"y":-1.5,"v":78},{"x":86,"y":-1.5,"v":78},{"x":86.25,"y":-1.5,"v":79},{"x":86.5,"y":-1.5,"v":79},{"x":86.75,"y":-1.5,"v":79},{"x":87,"y":-1.5,"v":79},{"x":87.25,"y":-1.5,"v":78},{"x":87.5,"y":-1.5,"v":78},{"x":87.75,"y":-1.5,"v":77},{"x":88,"y":-1.5,"v":77},{"x":88.25,"y":-1.5,"v":78},{"x":88.5,"y":-1.5,"v":78},{"x":88.75,"y":-1.5,"v":79},{"x":89,"y":-1.5,"v":79},{"x":89.25,"y":-1.5,"v":80},{"x":89.5,"y":-1.5,"v":79},{"x":89.75,"y":-1.5,"v":79},{"x":90,"y":-1.5,"v":78},{"x":90.25,"y":-1.5,"v":78},{"x":90.5,"y":-1.5,"v":77},{"x":90.75,"y":-1.5,"v":77},{"x":91,"y":-1.5,"v":76},{"x":91.25,"y":-1.5,"v":76},{"x":91.5,"y":-1.5,"v":75},{"x":91.75,"y":-1.5,"v":76},{"x":92,"y":-1.5,"v":76},{"x":92.25,"y":-1.5,"v":77},{"x":92.5,"y":-1.5,"v":76},{"x":93,"y":-1.5,"v":76},{"x":93.5,"y":-1.5,"v":75},{"x":94,"y":-1.5,"v":76},{"x":94.5,"y":-1.5,"v":76},{"x":95,"y":-1.5,"v":77},{"x":95.25,"y":-1.5,"v":76},{"x":95.5,"y":-1.5,"v":76},{"x":96,"y":-1.5,"v":76},{"x":96.5,"y":-1.5,"v":75},{"x":97,"y":-1.5,"v":76},{"x":97.5,"y":-1.5,"v":76},{"x":98,"y":-1.5,"v":78},{"x":98.25,"y":-1.5,"v":77},{"x":98.75,"y":-1.5,"v":76},{"x":99,"y":-1.5,"v":77},{"x":99.25,"y":-1.5,"v":76},{"x":103,"y":-1.5,"v":76},{"x":103.25,"y":-1.5,"v":77},{"x":103.5,"y":-1.5,"v":76},{"x":104,"y":-1.5,"v":76},{"x":105,"y":-1.5,"v":76},{"x":105.25,"y":-1.5,"v":76},
{"x":77.25,"y":-1.75,"v":74},{"x":77.5,"y":-1.75,"v":75},{"x":77.75,"y":-1.75,"v":76},{"x":78,"y":-1.75,"v":75},{"x":80.75,"y":-1.75,"v":76},{"x":81,"y":-1.75,"v":77},{"x":81.25,"y":-1.75,"v":77},{"x":81.5,"y":-1.75,"v":76},{"x":81.75,"y":-1.75,"v":75},{"x":82,"y":-1.75,"v":75},{"x":84.5,"y":-1.75,"v":75},{"x":85,"y":-1.75,"v":75},{"x":85.5,"y":-1.75,"v":76},{"x":85.75,"y":-1.75,"v":76},{"x":86,"y":-1.75,"v":77},{"x":86.25,"y":-1.75,"v":77},{"x":86.5,"y":-1.75,"v":77},{"x":86.75,"y":-1.75,"v":76},{"x":87,"y":-1.75,"v":77},{"x":87.25,"y":-1.75,"v":78},{"x":87.5,"y":-1.75,"v":78},{"x":87.75,"y":-1.75,"v":77},{"x":88,"y":-1.75,"v":77},{"x":88.25,"y":-1.75,"v":76},{"x":88.5,"y":-1.75,"v":77},{"x":88.75,"y":-1.75,"v":77},{"x":89,"y":-1.75,"v":76},{"x":89.25,"y":-1.75,"v":76},{"x":89.5,"y":-1.75,"v":76},{"x":89.75,"y":-1.75,"v":75},{"x":90,"y":-1.75,"v":75},{"x":90.5,"y":-1.75,"v":77},{"x":90.75,"y":-1.75,"v":78},{"x":91,"y":-1.75,"v":78},{"x":91.25,"y":-1.75,"v":79},{"x":91.5,"y":-1.75,"v":78},{"x":91.75,"y":-1.75,"v":78},{"x":92,"y":-1.75,"v":78},{"x":92.25,"y":-1.75,"v":79},{"x":92.5,"y":-1.75,"v":79},{"x":92.75,"y":-1.75,"v":80},{"x":93,"y":-1.75,"v":79},{"x":93.25,"y":-1.75,"v":78},{"x":93.5,"y":-1.75,"v":77},{"x":93.75,"y":-1.75,"v":77},{"x":94,"y":-1.75,"v":77},{"x":94.25,"y":-1.75,"v":76},{"x":94.5,"y":-1.75,"v":76},{"x":95,"y":-1.75,"v":76},{"x":95.25,"y":-1.75,"v":77},{"x":95.5,"y":-1.75,"v":76},{"x":95.75,"y":-1.75,"v":75},{"x":96,"y":-1.75,"v":76},{"x":96.25,"y":-1.75,"v":76},{"x":96.5,"y":-1.75,"v":76},{"x":97,"y":-1.75,"v":76},{"x":97.25,"y":-1.75,"v":76},{"x":97.5,"y":-1.75,"v":77},{"x":97.75,"y":-1.75,"v":78},{"x":98,"y":-1.75,"v":79},{"x":98.25,"y":-1.75,"v":78},{"x":98.5,"y":-1.75,"v":77},{"x":99,"y":-1.75,"v":76},{"x":99.25,"y":-1.75,"v":76},{"x":103.5,"y":-1.75,"v":76},{"x":103.75,"y":-1.75,"v":76},{"x":104,"y":-1.75,"v":75},
{"x":82,"y":-2,"v":74},{"x":85.75,"y":-2,"v":74},{"x":87.25,"y":-2,"v":74},{"x":88,"y":-2,"v":75},{"x":88.5,"y":-2,"v":75},{"x":90.5,"y":-2,"v":75},{"x":91,"y":-2,"v":76},{"x":91.25,"y":-2,"v":76},{"x":91.5,"y":-2,"v":76},{"x":91.75,"y":-2,"v":75},{"x":92,"y":-2,"v":75},{"x":92.25,"y":-2,"v":76},{"x":92.5,"y":-2,"v":77},{"x":92.75,"y":-2,"v":78},{"x":93,"y":-2,"v":78},{"x":93.25,"y":-2,"v":77},{"x":93.5,"y":-2,"v":75},{"x":94,"y":-2,"v":74},{"x":95,"y":-2,"v":75},{"x":95.5,"y":-2,"v":76},{"x":96,"y":-2,"v":75},{"x":96.5,"y":-2,"v":76},{"x":96.75,"y":-2,"v":76},{"x":97,"y":-2,"v":76},{"x":97.5,"y":-2,"v":76},{"x":97.75,"y":-2,"v":76},{"x":98,"y":-2,"v":76},{"x":98.25,"y":-2,"v":77},{"x":98.5,"y":-2,"v":78},{"x":98.75,"y":-2,"v":78},{"x":99,"y":-2,"v":78},{"x":99.25,"y":-2,"v":77},{"x":99.5,"y":-2,"v":76},{"x":103,"y":-2,"v":76},{"x":103.25,"y":-2,"v":76},{"x":103.5,"y":-2,"v":75},{"x":104.25,"y":-2,"v":76},
{"x":92.75,"y":-2.25,"v":75},{"x":93.25,"y":-2.25,"v":74},{"x":99.25,"y":-2.25,"v":75},{"x":99.5,"y":-2.25,"v":76},{"x":99.75,"y":-2.25,"v":76},{"x":100,"y":-2.25,"v":76},{"x":100.25,"y":-2.25,"v":76},{"x":100.5,"y":-2.25,"v":75},{"x":101.25,"y":-2.25,"v":76},{"x":101.75,"y":-2.25,"v":76},{"x":103.5,"y":-2.25,"v":75},{"x":104,"y":-2.25,"v":75},{"x":104.5,"y":-2.25,"v":76},{"x":105,"y":-2.25,"v":75},
{"x":100,"y":-2.5,"v":74},{"x":101.25,"y":-2.5,"v":76},{"x":101.75,"y":-2.5,"v":76},{"x":105.5,"y":-2.5,"v":74},{"x":106,"y":-2.5,"v":75},
{"x":92.25,"y":-3.25,"v":75},{"x":92.75,"y":-3.5,"v":73},{"x":93.5,"y":-3.5,"v":74},{"x":95,"y":-3.5,"v":74},{"x":98.5,"y":-3.75,"v":74},{"x":98.75,"y":-3.75,"v":75},{"x":100,"y":-4,"v":74},{"x":100.25,"y":-4,"v":74},{"x":101,"y":-4,"v":75},{"x":101.5,"y":-4,"v":74},{"x":106,"y":-3.75,"v":74},{"x":103,"y":-3.25,"v":73},{"x":105,"y":-3.25,"v":73},{"x":108.5,"y":-3.25,"v":73},{"x":109.25,"y":-3.5,"v":73},
{"x":109.75,"y":1.5,"v":73},{"x":109.75,"y":0.75,"v":76},{"x":109.75,"y":0.5,"v":76},{"x":109.75,"y":0.25,"v":76},{"x":109.75,"y":0,"v":75},{"x":109.75,"y":-0.25,"v":75},{"x":109.75,"y":-0.5,"v":75},{"x":109.75,"y":-0.75,"v":75},{"x":109.75,"y":-1,"v":75},{"x":109.75,"y":-1.5,"v":73},{"x":109.75,"y":-2.5,"v":76},{"x":109.75,"y":-2.75,"v":76},{"x":109.75,"y":-3,"v":77},{"x":109.75,"y":-3.25,"v":78},{"x":109.75,"y":-3.5,"v":79},{"x":109.75,"y":-3.75,"v":78},{"x":109.75,"y":-4,"v":77},{"x":109.75,"y":-4.25,"v":76},{"x":109.75,"y":-4.5,"v":75},{"x":109.75,"y":-4.75,"v":74}
]},
"encoding":{
"x":{"field":"x","type":"quantitative","scale":{"domain":[60,110],"nice":false,"zero":false},"axis":{"values":[60,70,80,90,100,110],"title":"X, in","grid":false,"domain":false,"ticks":false,"labelFont":"Liberation Serif","labelFontSize":27,"labelColor":"#404040","labelPadding":13,"labelFlush":false,"titleFont":"Liberation Serif","titleFontSize":31,"titleFontWeight":"bold","titleColor":"#333333","titlePadding":7}},
"y":{"field":"y","type":"quantitative","scale":{"domain":[-8,8],"nice":false,"zero":false},"axis":{"values":[-8,-4,0,4,8],"labelExpr":"''+datum.value","title":"Y, in","grid":false,"domain":false,"ticks":false,"labelFont":"Liberation Serif","labelFontSize":27,"labelColor":"#404040","labelPadding":8,"titleFont":"Liberation Serif","titleFontSize":31,"titleFontWeight":"bold","titleColor":"#333333","titlePadding":7}},
"color":{"field":"v","type":"quantitative","scale":{"domain":[71.64,74,76,78,80,82,84,86,88,90,91.7],"range":["#352a87","#1a4fd4","#0c80dc","#089ccc","#12aeb4","#30b8a0","#80bd78","#c2bc55","#f3b83a","#fdd42a","#f9fb0e"]},"legend":{"orient":"none","legendX":893,"legendY":0,"title":null,"type":"gradient","gradientLength":281,"gradientThickness":17,"gradientStrokeColor":"#a0a0a0","gradientStrokeWidth":1,"values":[75,80,85,90],"labelFont":"Liberation Serif","labelFontSize":28,"labelColor":"#404040","labelOffset":8,"labelOverlap":false,"tickCount":4}}
}},
{"data":{"values":[{"x":60.4,"y":1.55,"o":1},{"x":62.97,"y":1,"o":2},{"x":62.97,"y":-1.1,"o":3},{"x":60.4,"y":-1.5,"o":4}]},"mark":{"type":"line","color":"white","strokeWidth":2},"encoding":{"x":{"field":"x","type":"quantitative"},"y":{"field":"y","type":"quantitative"},"order":{"field":"o"}}},
{"data":{"values":[{"x":60.28,"y":-5.4,"t":"Int=111.8 dB, Pk=91.7 dB"},{"x":60.28,"y":-7.1,"t":"phi=0.1, it=187, CPU=23342 sec"}]},"mark":{"type":"text","align":"left","baseline":"middle","color":"#f4f4fa","font":"Liberation Serif","fontSize":26,"fontWeight":"bold"},"encoding":{"x":{"field":"x","type":"quantitative"},"y":{"field":"y","type":"quantitative"},"text":{"field":"t"}}},
{"data":{"values":[{"x":53.4,"y":1.15,"t":"CLEAN-SC"}]},"mark":{"type":"text","angle":270,"align":"center","baseline":"middle","color":"#000000","font":"Lato","fontSize":36,"fontWeight":"bold"},"encoding":{"x":{"field":"x","type":"quantitative"},"y":{"field":"y","type":"quantitative"},"text":{"field":"t"}}},
{"data":{"values":[{"x":116,"y":0,"t":"SPL, dB ref 20 µPa"}]},"mark":{"type":"text","angle":270,"align":"center","baseline":"middle","color":"#333333","font":"Liberation Serif","fontSize":32,"fontWeight":"bold"},"encoding":{"x":{"field":"x","type":"quantitative"},"y":{"field":"y","type":"quantitative"},"text":{"field":"t"}}}
]}
